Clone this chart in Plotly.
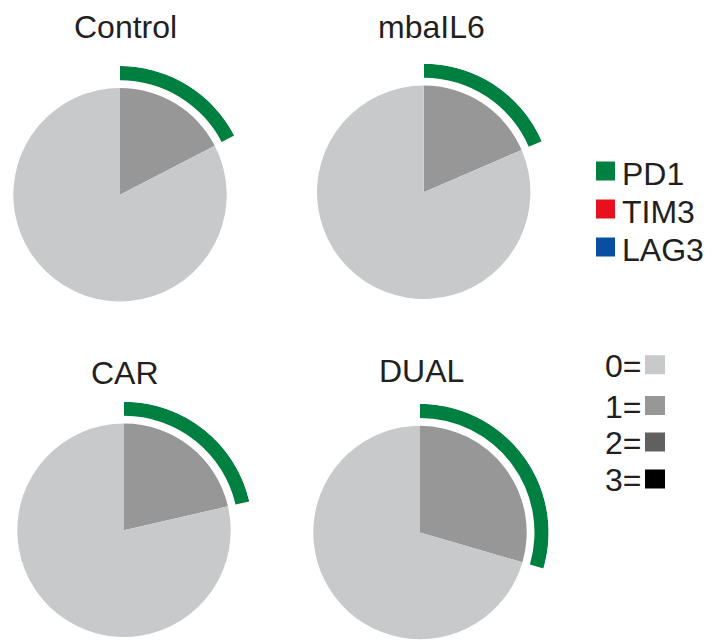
import math
import plotly.graph_objects as go

# ---- data (percent of cells) ----
groups = ["Control", "mbaIL6", "CAR", "DUAL"]
score0 = [82.6, 81.5, 78.6, 70.5]   # 0 markers
score1 = [17.4, 18.5, 21.4, 29.5]   # 1 marker
score2 = [0.0, 0.0, 0.0, 0.0]       # 2 markers
score3 = [0.0, 0.0, 0.0, 0.0]       # 3 markers
pd1 = [17.4, 18.5, 21.4, 29.5]      # PD1+ arc
tim3 = [0.0, 0.0, 0.0, 0.0]
lag3 = [0.0, 0.0, 0.0, 0.0]

marker_names = ["PD1", "TIM3", "LAG3"]
score_labels = ["0=", "1=", "2=", "3="]

# ---- styling / layout constants ----
W, H = 715, 640
OFF = 8  # default page body margin
FONT = "Liberation Sans, Arial, sans-serif"
TXT = "#231f20"
score_colors = ["#c8c9cb", "#979797", "#606060", "#000000"]
marker_colors = ["#008040", "#e8101e", "#0a4ea2"]

centers = [(120, 194.7), (423.7, 192.3), (124, 530.3), (420, 532.5)]
title_pos = [(125, 26.5), (431, 26.5), (124.7, 373), (421.7, 371)]
R_PIE = 106.7
R_OUT = 128.6
R_IN = 114.5
SECTOR = [-25, 90]
sb_y0 = math.sin(math.radians(SECTOR[0]))  # negative


def px(x):
    return (x - OFF) / W


def py(y):
    return 1 - (y - OFF) / H


fig = go.Figure()
layout_polars = {}

for i, g in enumerate(groups):
    cx, cy = centers[i]
    # main pie
    fig.add_trace(go.Pie(
        values=[score1[i], score2[i], score3[i], score0[i]],
        labels=["1", "2", "3", "0"],
        marker=dict(colors=[score_colors[1], score_colors[2], score_colors[3], score_colors[0]],
                    line=dict(width=0)),
        sort=False, direction="clockwise", rotation=0,
        textinfo="none", hoverinfo="skip", showlegend=False,
        domain=dict(x=[px(cx - R_PIE), px(cx + R_PIE)],
                    y=[py(cy + R_PIE), py(cy - R_PIE)]),
    ))
    # marker ring in a polar subplot
    pname = "polar" if i == 0 else f"polar{i + 1}"
    start = 0.0
    for vals, col in zip([pd1, tim3, lag3], marker_colors):
        v = vals[i]
        if v <= 0:
            continue
        w = v * 3.6
        fig.add_trace(go.Barpolar(
            r=[1 - R_IN / R_OUT], base=[R_IN / R_OUT],
            theta=[start + w / 2], width=[w],
            marker=dict(color=col, line=dict(width=0)),
            hoverinfo="skip", showlegend=False, subplot=pname,
        ))
        start += w
    layout_polars[pname] = dict(
        domain=dict(x=[px(cx), px(cx + R_OUT)],
                    y=[py(cy - sb_y0 * R_OUT), py(cy - R_OUT)]),
        sector=SECTOR,
        bgcolor="rgba(0,0,0,0)",
        angularaxis=dict(visible=False, direction="clockwise", rotation=90,
                         showgrid=False, showline=False, ticks=""),
        radialaxis=dict(visible=False, range=[0, 1], showgrid=False,
                        showline=False, ticks=""),
    )

annotations = []
for i, g in enumerate(groups):
    tx, ty = title_pos[i]
    annotations.append(dict(x=px(tx), y=py(ty), xref="paper", yref="paper",
                            text=g, showarrow=False, xanchor="center", yanchor="middle",
                            font=dict(family=FONT, size=32, color=TXT)))

shapes = []
# marker legend
leg1_y = [171, 209, 247]
for name, col, yc in zip(marker_names, marker_colors, leg1_y):
    shapes.append(dict(type="rect", xref="paper", yref="paper",
                       x0=px(596), x1=px(615), y0=py(yc + 9.5), y1=py(yc - 9.5),
                       fillcolor=col, line=dict(width=0)))
    annotations.append(dict(x=px(620), y=py(yc + 3), xref="paper", yref="paper",
                            text=name, showarrow=False, xanchor="left", yanchor="middle",
                            font=dict(family=FONT, size=32, color=TXT)))

# score legend
leg2_y = [364.7, 405.5, 442, 479]
for lab, col, yc in zip(score_labels, score_colors, leg2_y):
    shapes.append(dict(type="rect", xref="paper", yref="paper",
                       x0=px(645), x1=px(665), y0=py(yc + 9.5), y1=py(yc - 9.5),
                       fillcolor=col, line=dict(width=0)))
    annotations.append(dict(x=px(643), y=py(yc + 1), xref="paper", yref="paper",
                            text=lab, showarrow=False, xanchor="right", yanchor="middle",
                            font=dict(family=FONT, size=32, color=TXT)))

fig.update_layout(
    width=W, height=H, autosize=False,
    margin=dict(l=0, r=0, t=0, b=0),
    paper_bgcolor="white", plot_bgcolor="white",
    annotations=annotations, shapes=shapes,
    showlegend=False,
    **layout_polars,
)

fig.write_html("out.html")
